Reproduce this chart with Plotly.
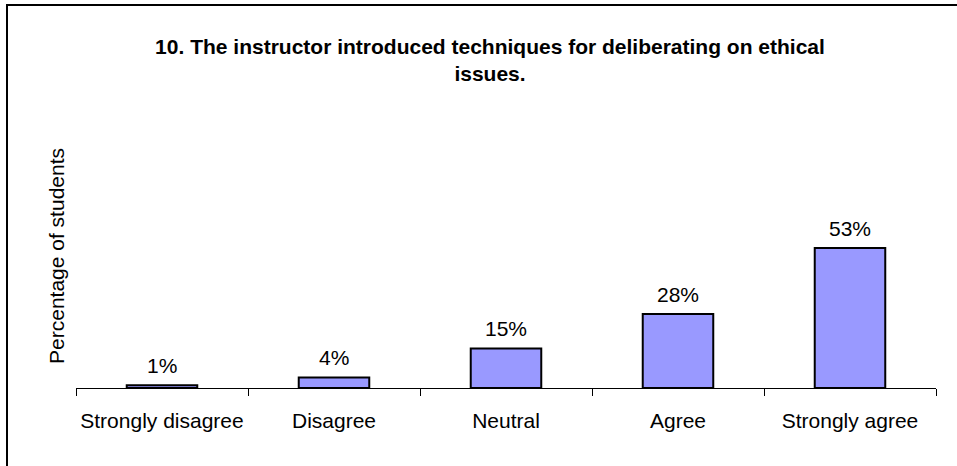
import plotly.graph_objects as go

# survey responses for question 10
categories = ["Strongly disagree", "Disagree", "Neutral", "Agree", "Strongly agree"]
percentages = [1, 4, 15, 28, 53]
labels = ["1%", "4%", "15%", "28%", "53%"]

title_text = "<b>10. The instructor introduced techniques for deliberating on ethical<br>issues.</b>"

W, H = 957, 466
ml, mr, mt, mb = 76, 21, 124, 78
FONT = "Liberation Sans, Arial"

fig = go.Figure()
fig.add_trace(go.Bar(
    x=categories,
    y=percentages,
    marker=dict(color="#9999FF", line=dict(color="black", width=2)),
    hoverinfo="skip",
))

# value labels sit a little above each bar, like the Excel original
for cat, val, lab in zip(categories, percentages, labels):
    fig.add_annotation(
        x=cat, y=val, text=lab, showarrow=False,
        yanchor="bottom", yshift=6,
        font=dict(family=FONT, size=21, color="black"),
    )

# chart-area frame (only its left and top edges fall inside the picture)
px_to_x = lambda p: (p - ml) / (W - ml - mr)
px_to_y = lambda p: (H - mb - p) / (H - mt - mb)
fig.add_shape(
    type="rect", xref="paper", yref="paper",
    x0=px_to_x(7), x1=px_to_x(1000), y0=px_to_y(520), y1=px_to_y(5),
    line=dict(color="black", width=2), fillcolor="rgba(0,0,0,0)", layer="above",
)

fig.update_layout(
    width=W, height=H,
    margin=dict(l=ml, r=mr, t=mt, b=mb, autoexpand=False),
    paper_bgcolor="white", plot_bgcolor="white",
    font=dict(family=FONT, size=21, color="black"),
    showlegend=False,
    bargap=0.59,
    title=dict(
        text=title_text, x=490 / W, xanchor="center",
        y=1 - 54 / H, yanchor="top",
        font=dict(family=FONT, size=21, color="black"),
    ),
    xaxis=dict(
        showline=True, linecolor="black", linewidth=1,
        ticks="outside", ticklen=7, tickcolor="black", tickwidth=1,
        tickson="boundaries", showgrid=False, tickangle=0,
        ticklabelstandoff=14, automargin=False,
    ),
    yaxis=dict(
        range=[0, 100], showgrid=False, showline=False, zeroline=False,
        showticklabels=False, ticks="", automargin=False,
        title=dict(text="Percentage of students", standoff=4,
                   font=dict(family=FONT, size=21)),
    ),
)

# drop the browser's default body margin so the figure sits at the page corner
fig.write_html("out.html", config={"displayModeBar": False},
               post_script="document.body.style.margin='0';")
